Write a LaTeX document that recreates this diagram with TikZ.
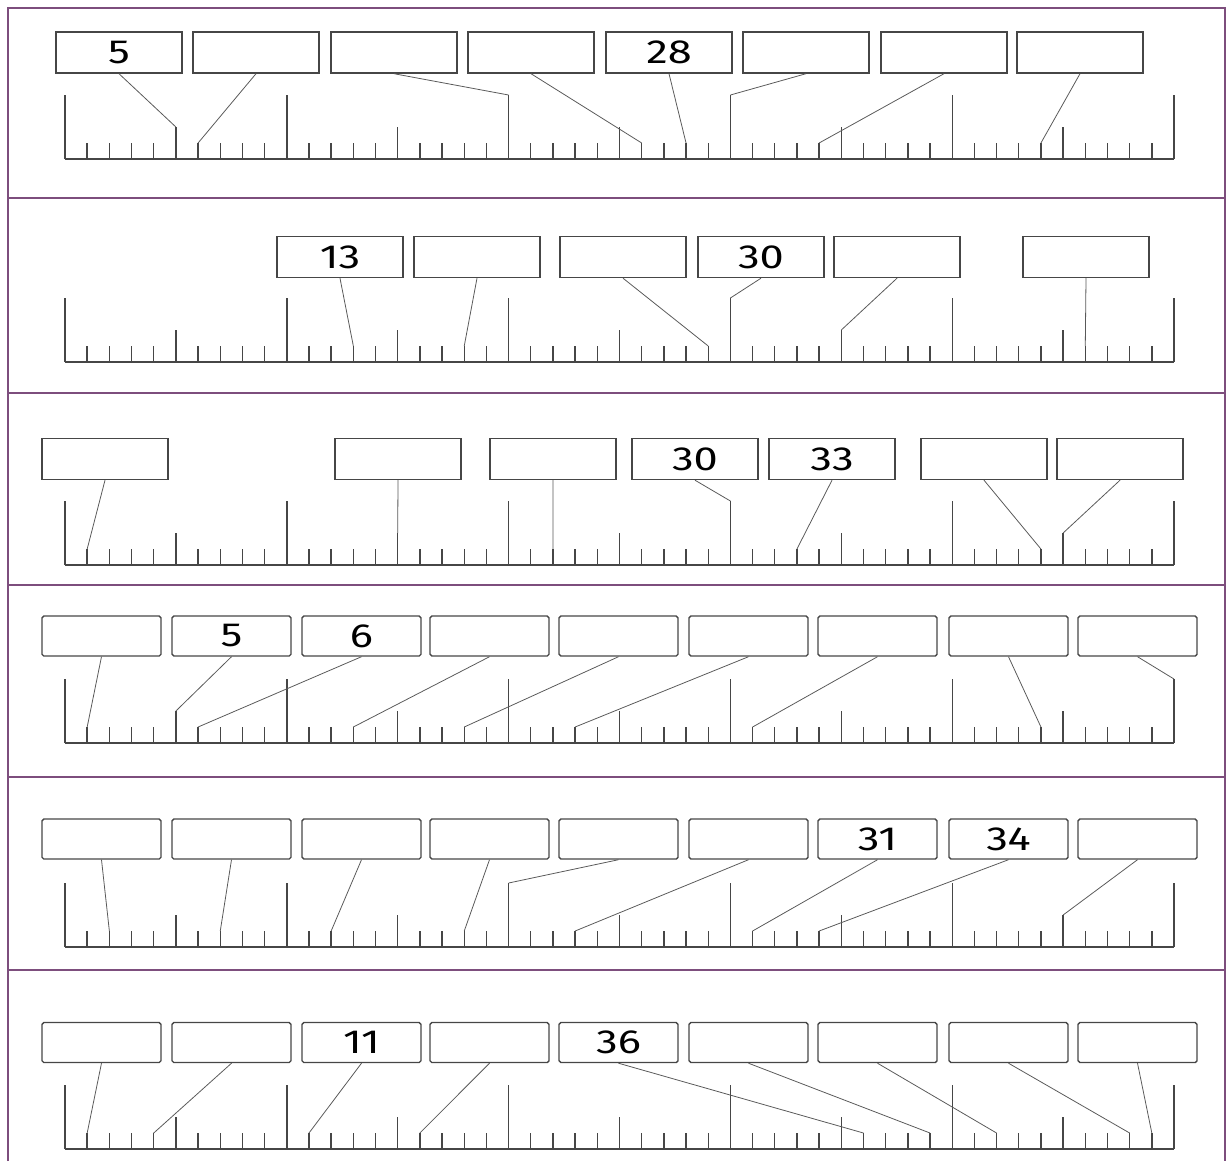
\documentclass[tikz,border=0pt]{standalone}
\usepackage{fontspec}
\newfontfamily\numfont[FakeStretch=1.3]{Fira Sans}
\usetikzlibrary{positioning}

\definecolor{framepurple}{RGB}{125,78,125}
\definecolor{rulegray}{RGB}{70,70,70}

\tikzset{
  numbox/.style={draw=rulegray, line width=0.8pt, minimum width=2.52cm, minimum height=0.82cm,
    inner sep=0pt, font=\numfont\fontsize{19}{19}\selectfont},
  narrowbox/.style={numbox, minimum width=2.38cm, minimum height=0.8cm, rounded corners=1pt},
  tickline/.style={line width=0.8pt, rulegray},
  link/.style={line width=0.45pt, black!65},
}

% thước số 0..50: #1 tên, #2 tung độ đường gốc
\newcommand{\drawruler}[2]{%
  \draw[tickline] (65,#2) -- (1174,#2);
  \foreach \i in {0,...,50}{%
    \pgfmathsetmacro\tickh{ifthenelse(mod(\i,10)==0,64,ifthenelse(mod(\i,5)==0,32,16))}
    \draw[tickline] (65+22.18*\i,#2) -- ++(0,-\tickh) coordinate (#1t\i);
  }%
}

\begin{document}
\begin{tikzpicture}[x=0.02cm, y=-0.02cm]
    \useasboundingbox (0,0) rectangle (1227,1161);

    % Khung và các đường chia
    \draw[framepurple, line width=1.1pt] (8,1161) -- (8,8) -- (1225,8) -- (1225,1161);
    \foreach \y in {198,393,585,777,970}
        \draw[framepurple, line width=1.1pt] (8,\y) -- (1225,\y);

    % Hàng 1
    \drawruler{p1}{159}
    \foreach \x/\lab/\t [count=\k] in {119/5/5, 256/{}/6, 394/{}/20, 531/{}/26,
        669/28/28, 806/{}/30, 944/{}/34, 1080/{}/44}{
        \node[numbox] (p1b\k) at (\x,52.5) {\lab};
        \draw[link] (p1b\k.south) -- (p1t\t);
    }

    % Hàng 2
    \drawruler{p2}{362}
    \foreach \x/\lab/\t [count=\k] in {340/13/13, 477/{}/18, 623/{}/29, 761/30/30,
        897/{}/35, 1086/{}/46}{
        \node[numbox] (p2b\k) at (\x,257) {\lab};
        \draw[link] (p2b\k.south) -- (p2t\t);
    }

    % Hàng 3
    \drawruler{p3}{565}
    \foreach \x/\lab/\t [count=\k] in {105/{}/1, 398/{}/15, 553/{}/22, 695/30/30,
        832/33/33, 984/{}/44, 1120/{}/45}{
        \node[numbox] (p3b\k) at (\x,459) {\lab};
        \draw[link] (p3b\k.south) -- (p3t\t);
    }

    % Hàng 4
    \drawruler{p4}{743}
    \foreach \x/\lab/\t [count=\k] in {101.5/{}/1, 231.5/5/5, 361.5/6/6, 489.5/{}/13,
        618.5/{}/18, 748.5/{}/23, 877.5/{}/31, 1008.5/{}/44, 1137.5/{}/50}{
        \node[narrowbox] (p4b\k) at (\x,636) {\lab};
        \draw[link] (p4b\k.south) -- (p4t\t);
    }

    % Hàng 5
    \drawruler{p5}{947}
    \foreach \x/\lab/\t [count=\k] in {101.5/{}/2, 231.5/{}/7, 361.5/{}/12, 489.5/{}/18,
        618.5/{}/20, 748.5/{}/23, 877.5/31/31, 1008.5/34/34, 1137.5/{}/45}{
        \node[narrowbox] (p5b\k) at (\x,839) {\lab};
        \draw[link] (p5b\k.south) -- (p5t\t);
    }

    % Hàng 6
    \drawruler{p6}{1149}
    \foreach \x/\lab/\t [count=\k] in {101.5/{}/1, 231.5/{}/4, 361.5/11/11, 489.5/{}/16,
        618.5/36/36, 748.5/{}/39, 877.5/{}/42, 1008.5/{}/48, 1137.5/{}/49}{
        \node[narrowbox] (p6b\k) at (\x,1042.5) {\lab};
        \draw[link] (p6b\k.south) -- (p6t\t);
    }
\end{tikzpicture}
\end{document}
